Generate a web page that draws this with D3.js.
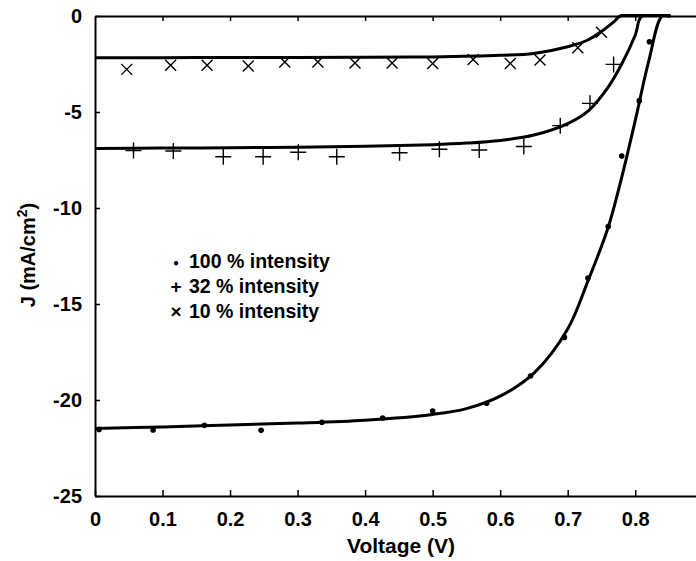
<!DOCTYPE html>
<html lang="en">
<head>
    <meta charset="UTF-8">
    <title>J-V curves</title>
    <style>
        body {
            margin: 0;
            background: #fff;
        }
        svg {
            display: block;
            font-family: Arial, "Liberation Sans", sans-serif;
            font-weight: bold;
        }
        .axis path,
        .axis line {
            fill: none;
            stroke: #000;
        }
        .axis text {
            font-family: Arial, "Liberation Sans", sans-serif;
            font-weight: bold;
            font-size: 20px;
            fill: #000;
        }
    </style>
</head>
<body>
    <svg width="696" height="561"></svg>
    <script src="https://d3js.org/d3.v7.min.js"></script>
    <script>
        // measured points (markers)
        const v100 = [0.006, 0.086, 0.162, 0.246, 0.336, 0.426, 0.500, 0.580, 0.645, 0.695, 0.730, 0.760, 0.780, 0.806, 0.821];
        const j100 = [-21.53, -21.56, -21.32, -21.58, -21.16, -20.94, -20.57, -20.17, -18.75, -16.74, -13.65, -10.97, -7.29, -4.41, -1.34];

        const v32 = [0.057, 0.116, 0.190, 0.249, 0.301, 0.358, 0.451, 0.510, 0.569, 0.635, 0.689, 0.733, 0.768];
        const j32 = [-7.01, -7.03, -7.33, -7.33, -7.10, -7.33, -7.12, -6.94, -6.98, -6.80, -5.71, -4.55, -2.52];

        const v10 = [0.047, 0.112, 0.166, 0.227, 0.281, 0.330, 0.385, 0.440, 0.500, 0.560, 0.615, 0.659, 0.715, 0.750];
        const j10 = [-2.78, -2.57, -2.57, -2.60, -2.40, -2.40, -2.45, -2.45, -2.47, -2.26, -2.47, -2.29, -1.65, -0.85];

        // fitted curves
        const vFit100 = [0, 0.1, 0.2, 0.3, 0.4, 0.5, 0.55, 0.6, 0.65, 0.7, 0.73, 0.76, 0.78, 0.8, 0.82, 0.84, 0.852];
        const jFit100 = [-21.48, -21.4, -21.3, -21.2, -21.05, -20.75, -20.45, -19.8, -18.6, -16.3, -13.8, -11.0, -8.4, -5.45, -2.35, 0, 0];

        const vFit32 = [0, 0.1, 0.2, 0.3, 0.4, 0.5, 0.55, 0.6, 0.65, 0.7, 0.73, 0.76, 0.78, 0.8, 0.81, 0.852];
        const jFit32 = [-6.9, -6.88, -6.86, -6.83, -6.78, -6.7, -6.62, -6.48, -6.2, -5.6, -4.95, -3.7, -2.5, -1.0, 0, 0];

        const vFit10 = [0, 0.1, 0.2, 0.3, 0.4, 0.5, 0.6, 0.65, 0.7, 0.73, 0.75, 0.77, 0.778, 0.852];
        const jFit10 = [-2.17, -2.17, -2.16, -2.16, -2.15, -2.13, -2.05, -1.95, -1.6, -1.25, -0.8, -0.25, 0, 0];

        const xTicks = [0, 0.1, 0.2, 0.3, 0.4, 0.5, 0.6, 0.7, 0.8];
        const yTicks = [0, -5, -10, -15, -20, -25];
        const legendSymbols = ["\u25cf", "+", "\u00d7"];
        const legendLabels = ["100 % intensity", "32 % intensity", "10 % intensity"];

        const svg = d3.select("svg");
        const margin = {top: 16, left: 95};
        const plotRight = 696;
        const plotBottom = 496;

        const x = d3.scaleLinear().domain([0, 0.89]).range([margin.left, plotRight]);
        const y = d3.scaleLinear().domain([-25, 0]).range([plotBottom, margin.top]);

        svg.append("clipPath").attr("id", "plot")
            .append("rect")
            .attr("x", margin.left).attr("y", margin.top - 2)
            .attr("width", plotRight - margin.left)
            .attr("height", plotBottom - margin.top + 2);

        // axes (ticks pointing inward)
        svg.append("g")
            .attr("class", "axis")
            .attr("transform", `translate(0,${plotBottom})`)
            .call(d3.axisBottom(x).tickValues(xTicks).tickSizeInner(-6).tickSizeOuter(0).tickPadding(16)
                .tickFormat(d => d === 0 ? "0" : d3.format(".1f")(d)))
            .call(g => g.select(".domain").attr("stroke-width", 2))
            .call(g => g.selectAll(".tick line").attr("stroke-width", 1.5));

        svg.append("g")
            .attr("class", "axis")
            .attr("transform", `translate(0,${margin.top})`)
            .call(d3.axisTop(x).tickValues(xTicks.slice(1)).tickSizeInner(-5).tickSizeOuter(0).tickFormat(""))
            .call(g => g.select(".domain").attr("stroke-width", 2))
            .call(g => g.selectAll(".tick line").attr("stroke-width", 1.5));

        svg.append("g")
            .attr("class", "axis")
            .attr("transform", `translate(${margin.left},0)`)
            .call(d3.axisLeft(y).tickValues(yTicks).tickSizeInner(-5).tickSizeOuter(0).tickPadding(13)
                .tickFormat(d => String(d)))
            .call(g => g.select(".domain").attr("stroke-width", 2))
            .call(g => g.selectAll(".tick line").attr("stroke-width", 1.5));

        // axis titles
        svg.append("text")
            .attr("x", 401).attr("y", 553)
            .attr("text-anchor", "middle")
            .style("font-size", "21px")
            .text("Voltage (V)");

        const yTitle = svg.append("text")
            .attr("transform", "translate(35,255) rotate(-90)")
            .attr("text-anchor", "middle")
            .style("font-size", "20px");
        yTitle.append("tspan").text("J (mA/cm");
        yTitle.append("tspan").attr("dy", -8).style("font-size", "14px").text("2");
        yTitle.append("tspan").attr("dy", 8).text(")");

        // fitted lines
        const line = d3.line()
            .x(d => x(d[0]))
            .y(d => y(d[1]))
            .curve(d3.curveCatmullRom.alpha(0.5));

        const fits = [
            d3.zip(vFit100, jFit100),
            d3.zip(vFit32, jFit32),
            d3.zip(vFit10, jFit10)
        ];

        svg.append("g")
            .attr("clip-path", "url(#plot)")
            .selectAll("path")
            .data(fits)
            .enter().append("path")
            .attr("d", line)
            .attr("fill", "none")
            .attr("stroke", "#000")
            .attr("stroke-width", 3);

        // markers
        svg.append("g").selectAll("circle")
            .data(d3.zip(v100, j100))
            .enter().append("circle")
            .attr("cx", d => x(d[0]))
            .attr("cy", d => y(d[1]))
            .attr("r", 2.8)
            .attr("fill", "#000");

        svg.append("g").selectAll("path")
            .data(d3.zip(v32, j32))
            .enter().append("path")
            .attr("d", d => `M${x(d[0]) - 8},${y(d[1])}H${x(d[0]) + 8}M${x(d[0])},${y(d[1]) - 8}V${y(d[1]) + 8}`)
            .attr("stroke", "#000")
            .attr("stroke-width", 1.4)
            .attr("fill", "none");

        svg.append("g").selectAll("path")
            .data(d3.zip(v10, j10))
            .enter().append("path")
            .attr("d", d => `M${x(d[0]) - 5.5},${y(d[1]) - 5.5}L${x(d[0]) + 5.5},${y(d[1]) + 5.5}M${x(d[0]) - 5.5},${y(d[1]) + 5.5}L${x(d[0]) + 5.5},${y(d[1]) - 5.5}`)
            .attr("stroke", "#000")
            .attr("stroke-width", 1.4)
            .attr("fill", "none");

        // legend
        const legend = svg.append("g").selectAll("g")
            .data(legendLabels)
            .enter().append("g")
            .attr("transform", (d, i) => `translate(0,${268 + i * 25})`);

        legend.append("text")
            .attr("x", 176)
            .attr("y", (d, i) => i === 0 ? -2 : 0)
            .attr("text-anchor", "middle")
            .style("font-size", (d, i) => i === 0 ? "10px" : "19px")
            .text((d, i) => legendSymbols[i]);

        legend.append("text")
            .attr("x", 189)
            .style("font-size", "19.5px")
            .text(d => d);
    </script>
</body>
</html>
